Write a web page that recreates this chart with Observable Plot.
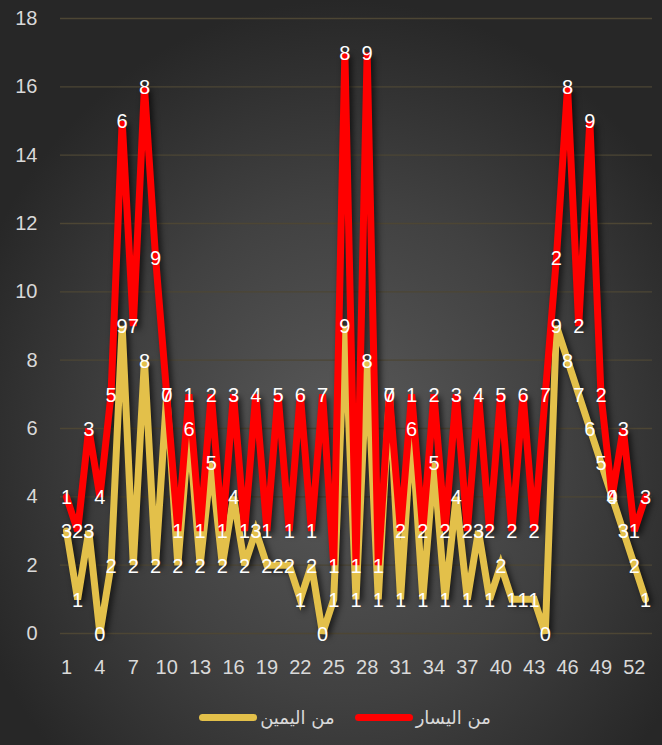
<!DOCTYPE html>
<html>
<head>
<meta charset="utf-8">
<script src="https://cdn.jsdelivr.net/npm/d3@7"></script>
<script src="https://cdn.jsdelivr.net/npm/@observablehq/plot@0.6"></script>
<style>
  html, body { margin: 0; padding: 0; }
  body {
    width: 662px; height: 745px; overflow: hidden;
    background: radial-gradient(ellipse 60% 60% at 52% 60%, #5a5a5a 0%, #414141 55%, #272727 100%);
  }
  #chart { width: 662px; height: 690px; }
  #legend {
    position: absolute; left: 0; top: 690px; width: 662px; height: 55px; box-sizing: border-box;
    padding-left: 28px;
    display: flex; justify-content: center; align-items: center; gap: 20px;
    font-family: "DejaVu Sans", "Noto Sans", sans-serif; font-size: 18px; color: #d9d9d9;
  }
  .item { display: flex; align-items: center; gap: 3px; direction: ltr; }
  .sw { width: 58px; height: 7px; border-radius: 4px; }
</style>
</head>
<body>
<div id="chart"></div>
<div id="legend"></div>
<script>
// Categories (x)
const categories = [1,2,3,4,5,6,7,8,9,10,11,12,13,14,15,16,17,18,19,20,21,22,23,24,25,26,27,28,29,30,31,32,33,34,35,36,37,38,39,40,41,42,43,44,45,46,47,48,49,50,51,52,53];
// Series (stacked: "من اليمين" bottom, "من اليسار" on top)
const seriesNames = ["من اليمين", "من اليسار"];
const seriesColors = ["#E3C04A", "#FF0000"];
const fromRight = [3,1,3,0,2,9,2,8,2,7, 2,6,2,5,2,4,2,3,2,2, 2,1,2,0,1,9,1,8,1,7, 1,6,1,5,1,4,1,3,1,2, 1,1,1,0,9,8,7,6,5,4, 3,2,1];
const fromLeft  = [1,2,3,4,5,6,7,8,9,0, 1,1,1,2,1,3,1,4,1,5, 1,6,1,7,1,8,1,9,1,0, 2,1,2,2,2,3,2,4,2,5, 2,6,2,7,2,8,2,9,2,0, 3,1,3];
// Tick labels
const xTicks = [1,4,7,10,13,16,19,22,25,28,31,34,37,40,43,46,49,52];
const yTicks = [0,2,4,6,8,10,12,14,16,18];

const rows = [];
categories.forEach((c, i) => rows.push({x: c, v: fromRight[i], s: seriesNames[0]}));
categories.forEach((c, i) => rows.push({x: c, v: fromLeft[i], s: seriesNames[1]}));

const chart = Plot.plot({
  width: 662,
  height: 690,
  marginLeft: 60,
  marginRight: 10,
  marginTop: 18,
  marginBottom: 57,
  insetLeft: 6,
  insetRight: 7,
  style: {fontFamily: "'Liberation Sans', Arial, sans-serif", fontSize: "20px", color: "#d9d9d9", background: "transparent", overflow: "visible"},
  x: {domain: [categories[0], categories[categories.length - 1]], ticks: xTicks, tickSize: 0, tickPadding: 26, tickFormat: d => String(d), label: null},
  y: {domain: [0, 18], ticks: yTicks, tickSize: 0, tickPadding: 23, label: null},
  color: {domain: seriesNames, range: seriesColors},
  marks: [
    Plot.gridY(yTicks, {stroke: "#4d4634", strokeOpacity: 1, strokeWidth: 1.3}),
    Plot.lineY(rows, Plot.stackY2({x: "x", y: "v", z: "s", stroke: "s", order: null, strokeWidth: 7, strokeLinejoin: "miter", strokeMiterlimit: 4})),
    Plot.text(rows, Plot.stackY2({x: "x", y: "v", z: "s", order: null, text: d => String(d.v), fill: "#ffffff", fontSize: 20, dy: 1}))
  ]
});

d3.select(chart).selectAll('g[aria-label="line"]').style("filter", "drop-shadow(3px 3px 3px rgba(0,0,0,0.65))");
document.getElementById("chart").appendChild(chart);

// Legend (visual order: yellow left, red right)
const legend = d3.select("#legend");
seriesNames.forEach((name, i) => {
  const it = legend.append("div").attr("class", "item");
  it.append("div").attr("class", "sw").style("background", seriesColors[i]);
  it.append("span").attr("dir", "rtl").text(name);
});
</script>
</body>
</html>
